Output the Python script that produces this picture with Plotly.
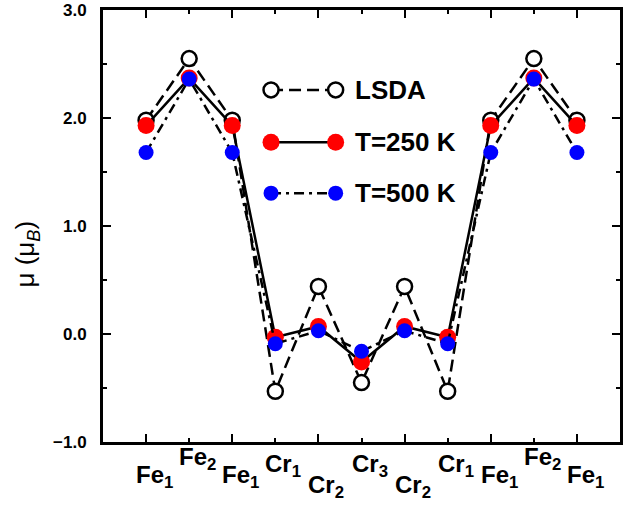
import plotly.graph_objects as go

# Atomic sites along the Fe/Cr/Fe multilayer and their local moments (mu_B)
sites = ["Fe<sub>1</sub>", "Fe<sub>2</sub>", "Fe<sub>1</sub>", "Cr<sub>1</sub>", "Cr<sub>2</sub>",
         "Cr<sub>3</sub>", "Cr<sub>2</sub>", "Cr<sub>1</sub>", "Fe<sub>1</sub>", "Fe<sub>2</sub>",
         "Fe<sub>1</sub>"]
lsda = [1.98, 2.55, 1.98, -0.53, 0.44, -0.45, 0.44, -0.53, 1.98, 2.55, 1.98]
t250 = [1.93, 2.37, 1.93, -0.03, 0.07, -0.26, 0.07, -0.03, 1.93, 2.37, 1.93]
t500 = [1.68, 2.36, 1.68, -0.09, 0.03, -0.16, 0.03, -0.09, 1.68, 2.36, 1.68]
series_names = ["LSDA", "T=250 K", "T=500 K"]
y_ticks = [-1.0, 0.0, 1.0, 2.0, 3.0]

idx = list(range(len(sites)))
BOLD = dict(family="Liberation Sans, Arial, sans-serif", color="black", weight="bold")

LSDA_DASH = "12px,6px"
DASHDOT = "10px,5px,3px,5px"

fig = go.Figure()
fig.add_trace(go.Scatter(
    x=idx, y=lsda, mode="lines+markers", name=series_names[0],
    line=dict(color="black", width=2.5, dash=LSDA_DASH),
    marker=dict(symbol="circle", size=15, color="white", line=dict(color="black", width=2.5)),
))
fig.add_trace(go.Scatter(
    x=idx, y=t250, mode="lines+markers", name=series_names[1],
    line=dict(color="black", width=2.5),
    marker=dict(symbol="circle", size=17, color="#ff0000", line=dict(width=0)),
))
fig.add_trace(go.Scatter(
    x=idx, y=t500, mode="lines+markers", name=series_names[2],
    line=dict(color="black", width=2.5, dash=DASHDOT),
    marker=dict(symbol="circle", size=15, color="#0000ff", line=dict(width=0)),
))

# Site labels below the axis, staggered in two rows
annotations = []
for i, lab in enumerate(sites):
    upper = i % 2 == 1
    is_cr = lab.startswith("Cr")
    if upper:
        shift = -6 if is_cr else 1
    else:
        shift = -27 if is_cr else -17
    annotations.append(dict(
        x=i, y=0, xref="x", yref="paper", text=lab, showarrow=False,
        xanchor="left", yanchor="top", xshift=-12, yshift=shift,
        font=dict(size=24, **BOLD),
    ))

# Y axis title
annotations.append(dict(
    x=-0.148, y=0.435, xref="paper", yref="paper", textangle=-90,
    text="\u03bc (\u03bc<sub><i>B</i></sub>)", showarrow=False,
    xanchor="center", yanchor="middle",
    font=dict(size=26, family="Liberation Sans, Arial, sans-serif", color="black"),
))

# Legend drawn as sample lines with a marker at each end
legend_rows = [0.815, 0.694, 0.576]
lx0, lx1, ltext = 0.325, 0.45, 0.484
legend_styles = [
    dict(dash=LSDA_DASH, fill="white", edge=2.5, r=7.5),
    dict(dash="solid", fill="#ff0000", edge=0, r=8.5),
    dict(dash=DASHDOT, fill="#0000ff", edge=0, r=7.5),
]
shapes = []
for name, yy, st in zip(series_names, legend_rows, legend_styles):
    shapes.append(dict(type="line", xref="paper", yref="paper", x0=lx0, x1=lx1, y0=yy, y1=yy,
                       line=dict(color="black", width=2.5, dash=st["dash"])))
    for xx in (lx0, lx1):
        shapes.append(dict(type="circle", xref="paper", yref="paper",
                           xsizemode="pixel", ysizemode="pixel", xanchor=xx, yanchor=yy,
                           x0=-st["r"], x1=st["r"], y0=-st["r"], y1=st["r"],
                           fillcolor=st["fill"],
                           line=dict(color="black", width=st["edge"])))
    annotations.append(dict(x=ltext, y=yy, xref="paper", yref="paper", text=name,
                            showarrow=False, xanchor="left", yanchor="middle",
                            font=dict(size=26, **BOLD)))

fig.update_layout(
    width=624, height=508,
    margin=dict(l=103, r=1, t=10, b=66),
    paper_bgcolor="white", plot_bgcolor="white",
    showlegend=False,
    annotations=annotations,
    shapes=shapes,
    xaxis=dict(
        range=[-1, 11], showgrid=False, zeroline=False,
        tickmode="linear", tick0=0, dtick=2,
        ticks="inside", ticklen=8, tickwidth=2, tickcolor="black",
        minor=dict(tick0=1, dtick=2, ticks="inside", ticklen=4, tickwidth=2, tickcolor="black"),
        showticklabels=False,
        showline=True, linewidth=3, linecolor="black", mirror="ticks",
    ),
    yaxis=dict(
        range=[-1, 3], showgrid=False, zeroline=False,
        tickmode="array", tickvals=y_ticks, tickformat=".1f",
        ticks="inside", ticklen=8, tickwidth=2, tickcolor="black",
        minor=dict(dtick=0.5, ticks="inside", ticklen=4, tickwidth=2, tickcolor="black"),
        tickfont=dict(size=17, **BOLD), ticklabelstandoff=10,
        showline=True, linewidth=3, linecolor="black", mirror="ticks",
    ),
)

fig.write_html("out.html")
